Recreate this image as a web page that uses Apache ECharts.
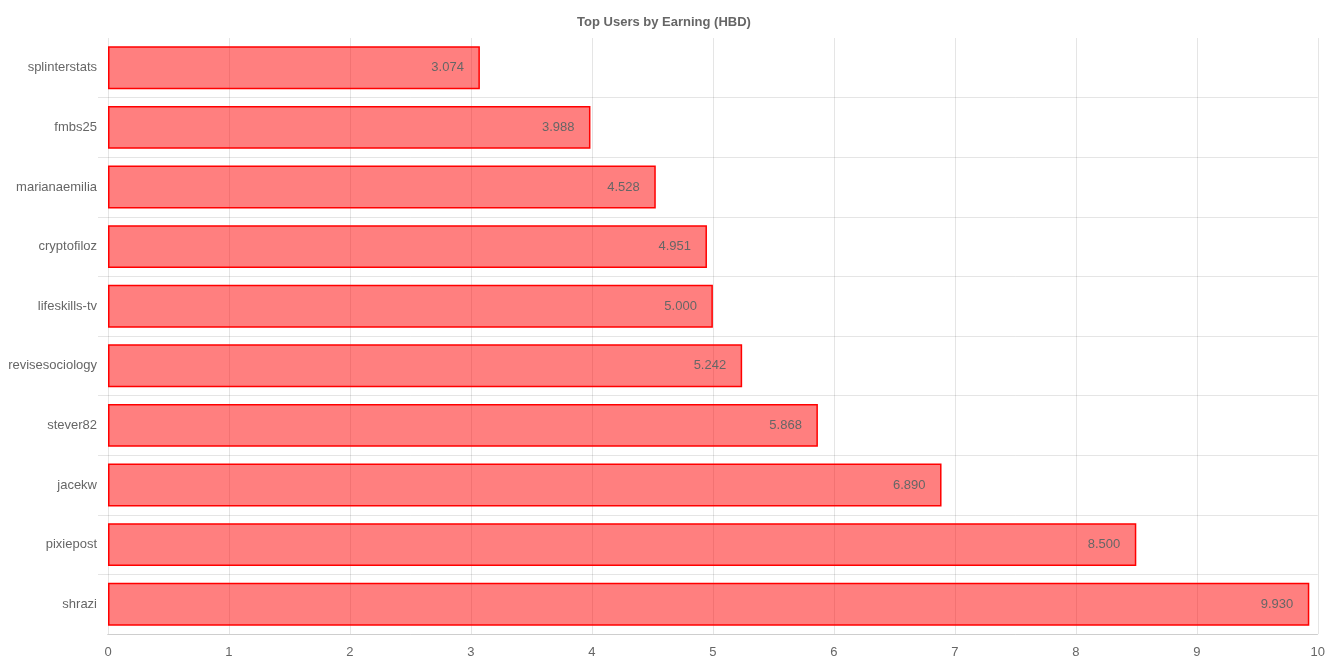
<!DOCTYPE html>
<html>
<head>
<meta charset="utf-8">
<script src="https://cdn.jsdelivr.net/npm/echarts@6/dist/echarts.min.js"></script>
<style>
html,body{margin:0;padding:0;background:#fff;}
#main{width:1328px;height:664px;}
</style>
</head>
<body>
<div id="main"></div>
<script>
const titleText = 'Top Users by Earning (HBD)';
const users = ['splinterstats','fmbs25','marianaemilia','cryptofiloz','lifeskills-tv','revisesociology','stever82','jacekw','pixiepost','shrazi'];
const earnings = [3.074, 3.988, 4.528, 4.951, 5.000, 5.242, 5.868, 6.890, 8.500, 9.930];
const xTicks = [0,1,2,3,4,5,6,7,8,9,10];

const font = '"Liberation Sans", Arial, Helvetica, sans-serif';
const gridColor = 'rgba(0,0,0,0.1)';
const innerOnly = (i)=> i!==0 && i!==users.length;
const gridLeft = 108, gridBottom = 30;
const chart = echarts.init(document.getElementById('main'));
chart.setOption({
  animation:false,
  textStyle:{fontFamily:font},
  title:{text:titleText,left:'center',top:11,textStyle:{fontFamily:font,fontSize:13,fontWeight:'bold',color:'#666'}},
  grid:{left:gridLeft,right:10,top:38,bottom:gridBottom,containLabel:false},
  graphic:[{type:'rect',left:gridLeft-12,bottom:gridBottom-3,z:100,
    shape:{width:11,height:6},style:{fill:'#fff'}}],
  xAxis:{type:'value',min:xTicks[0],max:xTicks[xTicks.length-1],interval:1,
    axisLine:{show:true,lineStyle:{color:gridColor}},axisTick:{show:false},
    axisLabel:{color:'#666',fontSize:13,fontFamily:font,margin:12},
    splitLine:{show:true,lineStyle:{color:gridColor,width:1}}},
  yAxis:{type:'category',data:users,inverse:true,
    axisLine:{show:false},
    axisTick:{show:true,length:10,interval:innerOnly,lineStyle:{color:gridColor}},
    axisLabel:{color:'#666',fontSize:13,fontFamily:font,margin:11},
    splitLine:{show:true,interval:innerOnly,lineStyle:{color:gridColor,width:1}}},
  series:[{type:'bar',data:earnings,barCategoryGap:'28%',
    itemStyle:{color:'rgba(255,0,0,0.5)',borderColor:'#ff0000',borderWidth:1.5},
    label:{show:true,position:'insideRight',distance:16,color:'#666',fontSize:13,fontFamily:font,
      formatter:p=>p.value.toFixed(3)}}]
});
</script>
</body>
</html>
